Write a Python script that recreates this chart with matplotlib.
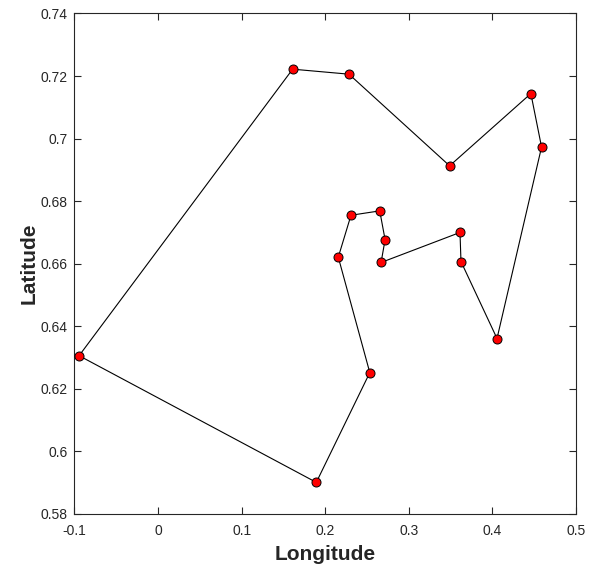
import matplotlib
matplotlib.use("Agg")
import matplotlib.pyplot as plt

# Route (in visiting order), closed back to the first city
longitude = [-0.0945, 0.1610, 0.2284, 0.3488, 0.4460, 0.4588, 0.4055, 0.3624,
             0.3612, 0.2668, 0.2716, 0.2652, 0.2308, 0.2156, 0.2533, 0.1893]
latitude = [0.6306, 0.7222, 0.7206, 0.6913, 0.7144, 0.6973, 0.6361, 0.6607,
            0.6700, 0.6604, 0.6677, 0.6769, 0.6755, 0.6621, 0.6252, 0.5901]

x_ticks = [-0.1, 0, 0.1, 0.2, 0.3, 0.4, 0.5]
x_labels = ["-0.1", "0", "0.1", "0.2", "0.3", "0.4", "0.5"]
y_ticks = [0.58, 0.6, 0.62, 0.64, 0.66, 0.68, 0.7, 0.72, 0.74]
y_labels = ["0.58", "0.6", "0.62", "0.64", "0.66", "0.68", "0.7", "0.72", "0.74"]

plt.rcParams['font.family'] = ['Liberation Sans', 'DejaVu Sans']

fig = plt.figure(figsize=(5.94, 5.67), dpi=100)
ax = fig.add_axes([0.1254, 0.0935, 0.8443, 0.8827])

xs = longitude + [longitude[0]]
ys = latitude + [latitude[0]]
ax.plot(xs, ys, '-', color='black', linewidth=0.8, zorder=2)
ax.plot(longitude, latitude, 'o', markerfacecolor='red', markeredgecolor='black',
        markeredgewidth=0.7, markersize=6.5, linestyle='none', zorder=3)

ax.set_xlim(-0.1, 0.5)
ax.set_ylim(0.58, 0.74)
ax.set_xticks(x_ticks)
ax.set_xticklabels(x_labels)
ax.set_yticks(y_ticks)
ax.set_yticklabels(y_labels)

grey = '#262626'
for side in ax.spines.values():
    side.set_color(grey)
    side.set_linewidth(0.8)
ax.tick_params(direction='in', top=True, right=True, length=5, width=0.8,
               colors=grey, labelsize=10)
ax.tick_params(axis='x', pad=7)
ax.tick_params(axis='y', pad=5)

ax.set_xlabel("Longitude", fontsize=15, fontweight='bold', color=grey, labelpad=5)
ax.set_ylabel("Latitude", fontsize=15, fontweight='bold', color=grey, labelpad=1)

fig.savefig("out.png", dpi=100)
